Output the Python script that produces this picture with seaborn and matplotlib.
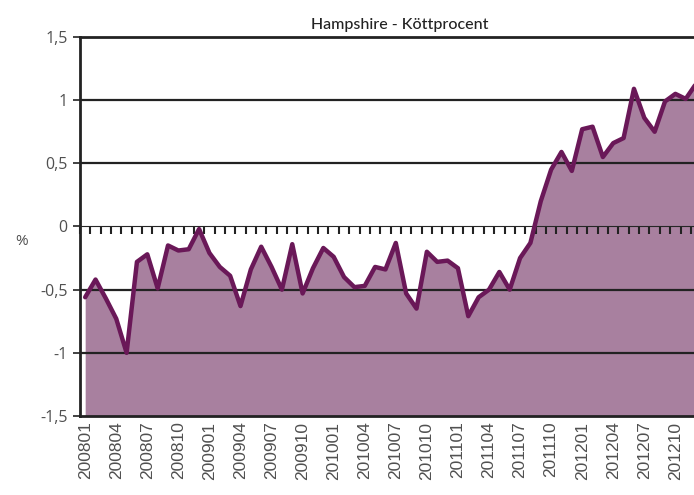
import matplotlib
matplotlib.use("Agg")
import matplotlib.pyplot as plt
import seaborn as sns
import pandas as pd

months = [f"{y}{m:02d}" for y in range(2008, 2013) for m in range(1, 13)]
values = [
    -0.56, -0.42, -0.57, -0.73, -1.00, -0.28, -0.22, -0.49, -0.15, -0.19, -0.18, -0.02,
    -0.21, -0.32, -0.39, -0.63, -0.34, -0.16, -0.32, -0.50, -0.14, -0.53, -0.33, -0.17,
    -0.24, -0.40, -0.48, -0.47, -0.32, -0.34, -0.13, -0.53, -0.65, -0.20, -0.28, -0.27,
    -0.33, -0.71, -0.56, -0.50, -0.36, -0.50, -0.25, -0.13, 0.20, 0.45, 0.59, 0.44,
    0.77, 0.79, 0.55, 0.66, 0.70, 1.09, 0.86, 0.75, 0.99, 1.05, 1.01, 1.13,
]
y_ticks = [1.5, 1, 0.5, 0, -0.5, -1, -1.5]
y_labels = ["1,5", "1", "0,5", "0", "-0,5", "-1", "-1,5"]
title = "Hampshire - Köttprocent"

df = pd.DataFrame({"month": months, "value": values})
df["pos"] = range(len(df))

sns.set_style("white")
plt.rcParams["font.family"] = ["Open Sans", "DejaVu Sans"]

fig = plt.figure(figsize=(6.94, 4.95), dpi=100)
ax = fig.add_axes([80 / 694, 1 - 416 / 495, 614 / 694, 379 / 495])

line_col = "#6a1858"
fill_col = "#a8809f"

ax.fill_between(df["pos"], df["value"], -1.5, color=fill_col, lw=0, zorder=1)
for yv in [1, 0.5, -0.5, -1]:
    ax.axhline(yv, color="#222222", lw=1.6, zorder=2)
sns.lineplot(data=df, x="pos", y="value", ax=ax, color=line_col, lw=3.2, zorder=4)

ax.set_xlim(-0.5, 58.8)
ax.set_ylim(-1.5, 1.5)

# y axis
ax.set_yticks(y_ticks)
ax.set_yticklabels(y_labels, fontsize=11.5, color="#505050")
ax.tick_params(axis="y", direction="out", length=5, width=1.2, color="#222222", left=True, pad=4)
ax.set_ylabel("%", rotation=0, fontsize=11, color="#505050")
ax.yaxis.set_label_coords(-0.095, 0.44)

# x axis labels every 3rd month
ax.set_xticks(df["pos"][::3])
ax.set_xticklabels(df["month"][::3], rotation=90, fontsize=12.5, color="#505050",
                   family="Liberation Sans")
ax.tick_params(axis="x", length=0, pad=4)
ax.set_xlabel("")

for side in ["left", "bottom", "top"]:
    ax.spines[side].set_visible(True)
    ax.spines[side].set_color("#222222")
    ax.spines[side].set_linewidth(2)
ax.spines["right"].set_visible(False)

# zero line with category tick marks
zero_ax = ax.secondary_xaxis(0.5)
zero_ax.set_xticks([p - 0.5 for p in df["pos"]])
zero_ax.tick_params(axis="x", direction="out", length=5, width=1.5, color="#222222",
                    labelbottom=False, labeltop=False, bottom=True, top=False)
zero_ax.spines["bottom"].set_linewidth(2)
zero_ax.spines["bottom"].set_color("#222222")
zero_ax.set_zorder(3)

ax.set_title(title, fontsize=11.5, color="#222222", family=["Lato", "DejaVu Sans"],
             fontweight="medium", x=0.52, pad=6)

fig.savefig("out.png", dpi=100)
